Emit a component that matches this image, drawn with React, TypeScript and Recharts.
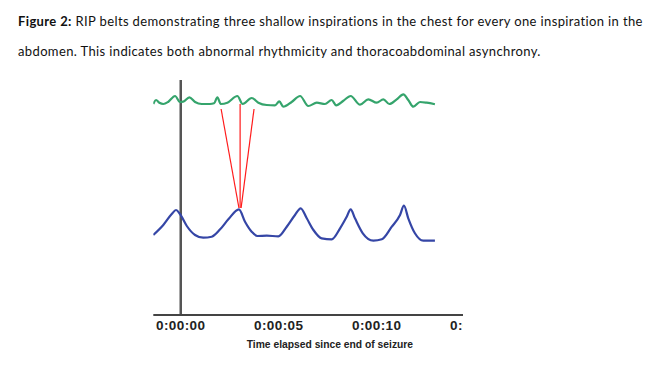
import React from 'react';
import { LineChart, Line, XAxis, YAxis, ReferenceLine } from 'recharts';

// chest (thoracic) belt trace: [seconds, amplitude]
const chestT = [-1.4, -1.26, -1.09, -0.89, -0.63, -0.29, -0.04, 0.13, 0.44, 0.73, 1.07, 1.49, 1.7, 1.87, 2.04, 2.38, 2.89, 3.16, 3.62, 3.96, 4.39, 4.81, 5.03, 5.23, 5.66, 6.09, 6.51, 6.94, 7.36, 7.7, 7.93, 8.3, 8.67, 9.15, 9.57, 10.0, 10.34, 10.64, 11.02, 11.36, 11.61, 11.87, 12.21, 12.55, 12.97];
const chestV = [211, 215, 212.3, 211, 213.3, 219, 213, 213.3, 217.7, 213, 211, 211, 211.7, 217.7, 211, 212.3, 219, 211, 217, 212.3, 210, 209.7, 213.7, 208.3, 213, 219, 209, 212.3, 211, 215, 209.7, 214.3, 219, 210.3, 215.7, 212.3, 215.7, 211, 215.7, 220.7, 215, 208.3, 213, 212.3, 210.7];

// abdomen belt trace
const abdoT = [-1.4, -0.89, -0.46, -0.24, -0.04, 0.31, 0.73, 1.15, 1.58, 2.01, 2.43, 2.97, 3.28, 3.62, 3.91, 4.39, 4.98, 5.41, 5.83, 6.12, 6.43, 6.77, 7.19, 7.7, 8.13, 8.47, 8.67, 8.89, 9.29, 9.83, 10.26, 10.77, 11.19, 11.39, 11.61, 11.95, 12.38, 12.97];
const abdoV = [80, 90, 101, 105, 101, 89, 80, 77.3, 78.3, 85.7, 95.7, 105.7, 93.3, 83.3, 79, 79.3, 78.7, 88.3, 100, 106.7, 96.7, 85, 76.7, 75.7, 86.7, 98.3, 105.7, 96.7, 81.7, 74.3, 75.7, 88.3, 100, 109.3, 96.7, 81.7, 74.3, 74.3];

// red markers: three chest peaks pointing to one abdomen peak
const markFromT = [2.06, 3.03, 3.74];
const markFromV = [206, 211, 206];
const markToT = [2.97, 3.03, 3.08];
const markToV = [107, 107, 107];

const xTicks = [0, 5, 10, 15];
const tickLabels = ['0:00:00', '0:00:05', '0:00:10', '0:00:15'];

const chest = chestT.map((t, i) => ({ t, v: chestV[i] }));
const abdomen = abdoT.map((t, i) => ({ t, v: abdoV[i] }));

const XTick = (props: any) => {
  const { x, y, payload } = props;
  const idx = xTicks.indexOf(payload.value);
  return (
    <text x={x} y={y} dy={15} textAnchor="middle" fontFamily="Liberation Sans, Arial, sans-serif"
      fontWeight="bold" fontSize={13.5} fill="#222" letterSpacing={0.4}>
      {tickLabels[idx]}
    </text>
  );
};

const AxisTitle = (props: any) => {
  const { viewBox } = props;
  return (
    <text x={viewBox.x + viewBox.width / 2 + 11} y={viewBox.y + 33} textAnchor="middle"
      fontFamily="Liberation Sans, Arial, sans-serif" fontWeight="bold" fontSize={10.3} fill="#222">
      Time elapsed since end of seizure
    </text>
  );
};

const captionStyle: React.CSSProperties = {
  position: 'absolute', left: 18, whiteSpace: 'nowrap', fontFamily: 'Lato, sans-serif',
  fontSize: 13, letterSpacing: 0.37, color: '#111',
};

const App = () => {
  return (
    <div style={{ position: 'absolute', left: 0, top: 0, width: 661, height: 374, background: '#fff' }}>
      <div style={{ ...captionStyle, top: 13 }}>
        <b>Figure 2:</b> RIP belts demonstrating three shallow inspirations in the chest for every one inspiration in the
      </div>
      <div style={{ ...captionStyle, top: 43 }}>
        abdomen. This indicates both abnormal rhythmicity and thoracoabdominal asynchrony.
      </div>

      {/* the source figure is cropped on the right */}
      <div style={{ position: 'absolute', left: 0, top: 0, width: 463, height: 374, overflow: 'hidden' }}>
        <LineChart width={661} height={374} margin={{ top: 80, right: 176.5, bottom: 19, left: 153.3 }}>
          <XAxis dataKey="t" type="number" domain={[-1.4, 15.5]} ticks={xTicks} allowDataOverflow
            axisLine={{ stroke: '#444', strokeWidth: 2 }} tickLine={false} tickSize={0} tickMargin={0}
            height={40} tick={<XTick />} label={<AxisTitle />} />
          <YAxis type="number" domain={[0, 235]} hide />
          <ReferenceLine x={0} stroke="#555" strokeWidth={2.5} />
          <Line data={chest} dataKey="v" type="monotone" stroke="#35a46c" strokeWidth={2.2} dot={false} isAnimationActive={false} />
          <Line data={abdomen} dataKey="v" type="monotone" stroke="#3546a6" strokeWidth={2.2} dot={false} isAnimationActive={false} />
          {markFromT.map((t, i) => (
            <ReferenceLine key={i} segment={[{ x: t, y: markFromV[i] }, { x: markToT[i], y: markToV[i] }]}
              stroke="#ff1a1a" strokeWidth={1.2} />
          ))}
        </LineChart>
      </div>
    </div>
  );
};

export default App;
